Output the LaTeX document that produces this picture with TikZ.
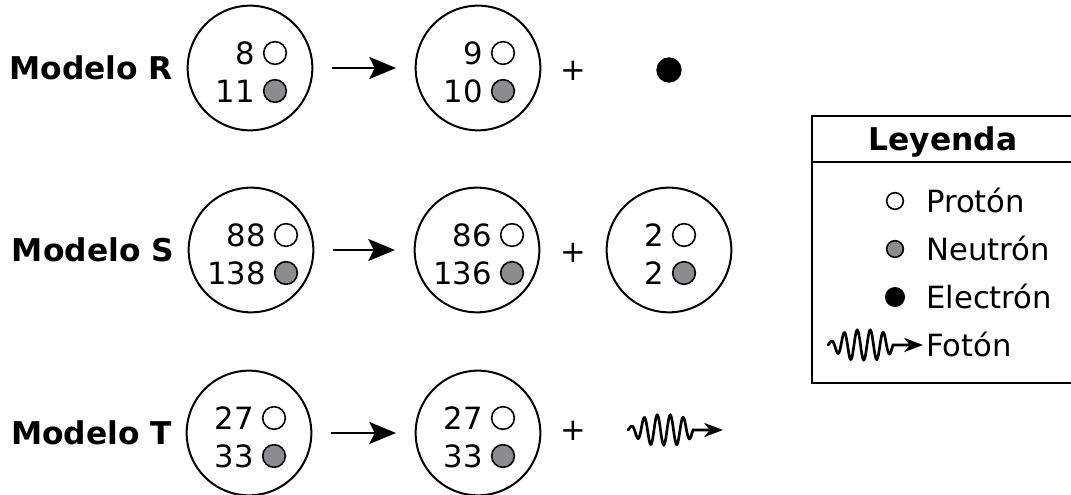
\documentclass[tikz,border=0pt]{standalone}
\usepackage{fontspec}
\setmainfont{DejaVu Sans}
\usetikzlibrary{positioning,arrows.meta}

\definecolor{neutrongray}{RGB}{140,140,144}

\tikzset{
  txt/.style={inner sep=0pt, font=\fontsize{23}{27}\selectfont, text height=16.8pt, text depth=0pt},
  modelo/.style={txt, font=\fontsize{23.5}{28}\selectfont\bfseries, text height=17.1pt},
  nucleo/.style={circle, draw, line width=1.5pt, minimum size=93.5pt, inner sep=0pt},
  proton/.style={circle, draw, line width=1.2pt, fill=white, minimum size=17pt, inner sep=0pt},
  neutron/.style={proton, fill=neutrongray},
  electron/.style={circle, fill=black, minimum size=19pt, inner sep=0pt},
  flecha/.style={line width=1.6pt, -{Stealth[length=20pt,width=16.5pt,inset=4pt]}, shorten <=14pt, shorten >=14pt},
  onda/.style={line width=2pt, line cap=round, -{Stealth[length=14pt,width=10.5pt,inset=4pt]}},
  fotonpic/.pic={\draw[onda] plot[domain=0:65, samples=130, smooth, variable=\t]
    (\t,{-15*exp(-1*((\t-36)/30)*((\t-36)/30)*((\t-36)/30)*((\t-36)/30))*sin(27.6923*\t)}) -- (95,0);}
}

\begin{document}
\begin{tikzpicture}[x=0.75pt, y=-0.75pt]
\useasboundingbox (0,0) rectangle (1071,495);
% Draw nuclei
\foreach \nm/\px/\py/\dx/\np/\nn in {r1/250/68/25/8/11, r2/478/68/25/9/10,
    s1/251/250/35/88/138, s2/477/250/35/86/136, s3/669/250/15/2/2,
    t1/249/433/25/27/33, t2/478/433/25/27/33}{
  \node[nucleo] (\nm) at (\px,\py) {};
  \node[proton] (\nm-p) at ([shift={(\dx,-15)}]\nm.center) {};
  \node[neutron] (\nm-n) at ([shift={(\dx,23)}]\nm.center) {};
  \node[txt, left=6pt of \nm-p] (\nm-a) {\np};
  \node[txt, left=6pt of \nm-n] (\nm-b) {\nn};
}
\node[electron] (r3) at (669,70) {};
% Draw labels
\node[modelo, left=10pt of r1] (mr) {Modelo R};
\node[modelo, left=10pt of s1] (ms) {Modelo S};
\node[modelo, left=10pt of t1] (mt) {Modelo T};
% Draw arrows
\draw[flecha] (r1) -- (r2);
\draw[flecha] (s1) -- (s2);
\draw[flecha] (t1) -- (t2);
\node[txt] (r-mas) at (573,69) {+};
\node[txt] (s-mas) at (573,251) {+};
\node[txt] (t-mas) at (573,429) {+};
\pic at (628,430) {fotonpic};
% Draw legend
\draw[line width=1.5pt] (1075,116) -| (812,383) -- (1075,383);
\draw[line width=1.5pt] (812,162) -- (1075,162);
\node[modelo] (ley) at (943,139) {Leyenda};
\node[proton, minimum size=12.5pt] (lp) at (895,201) {};
\node[neutron, minimum size=12.5pt] (ln) at (895,249) {};
\node[electron, minimum size=15pt] (le) at (895,297) {};
\pic at (828,345) {fotonpic};
\node[txt, anchor=west] (lpt) at (926,201) {Protón};
\node[txt, anchor=west] (lnt) at (926,249) {Neutrón};
\node[txt, anchor=west] (let) at (926,297) {Electrón};
\node[txt, anchor=west] (lft) at (926,345) {Fotón};
\end{tikzpicture}
\end{document}
